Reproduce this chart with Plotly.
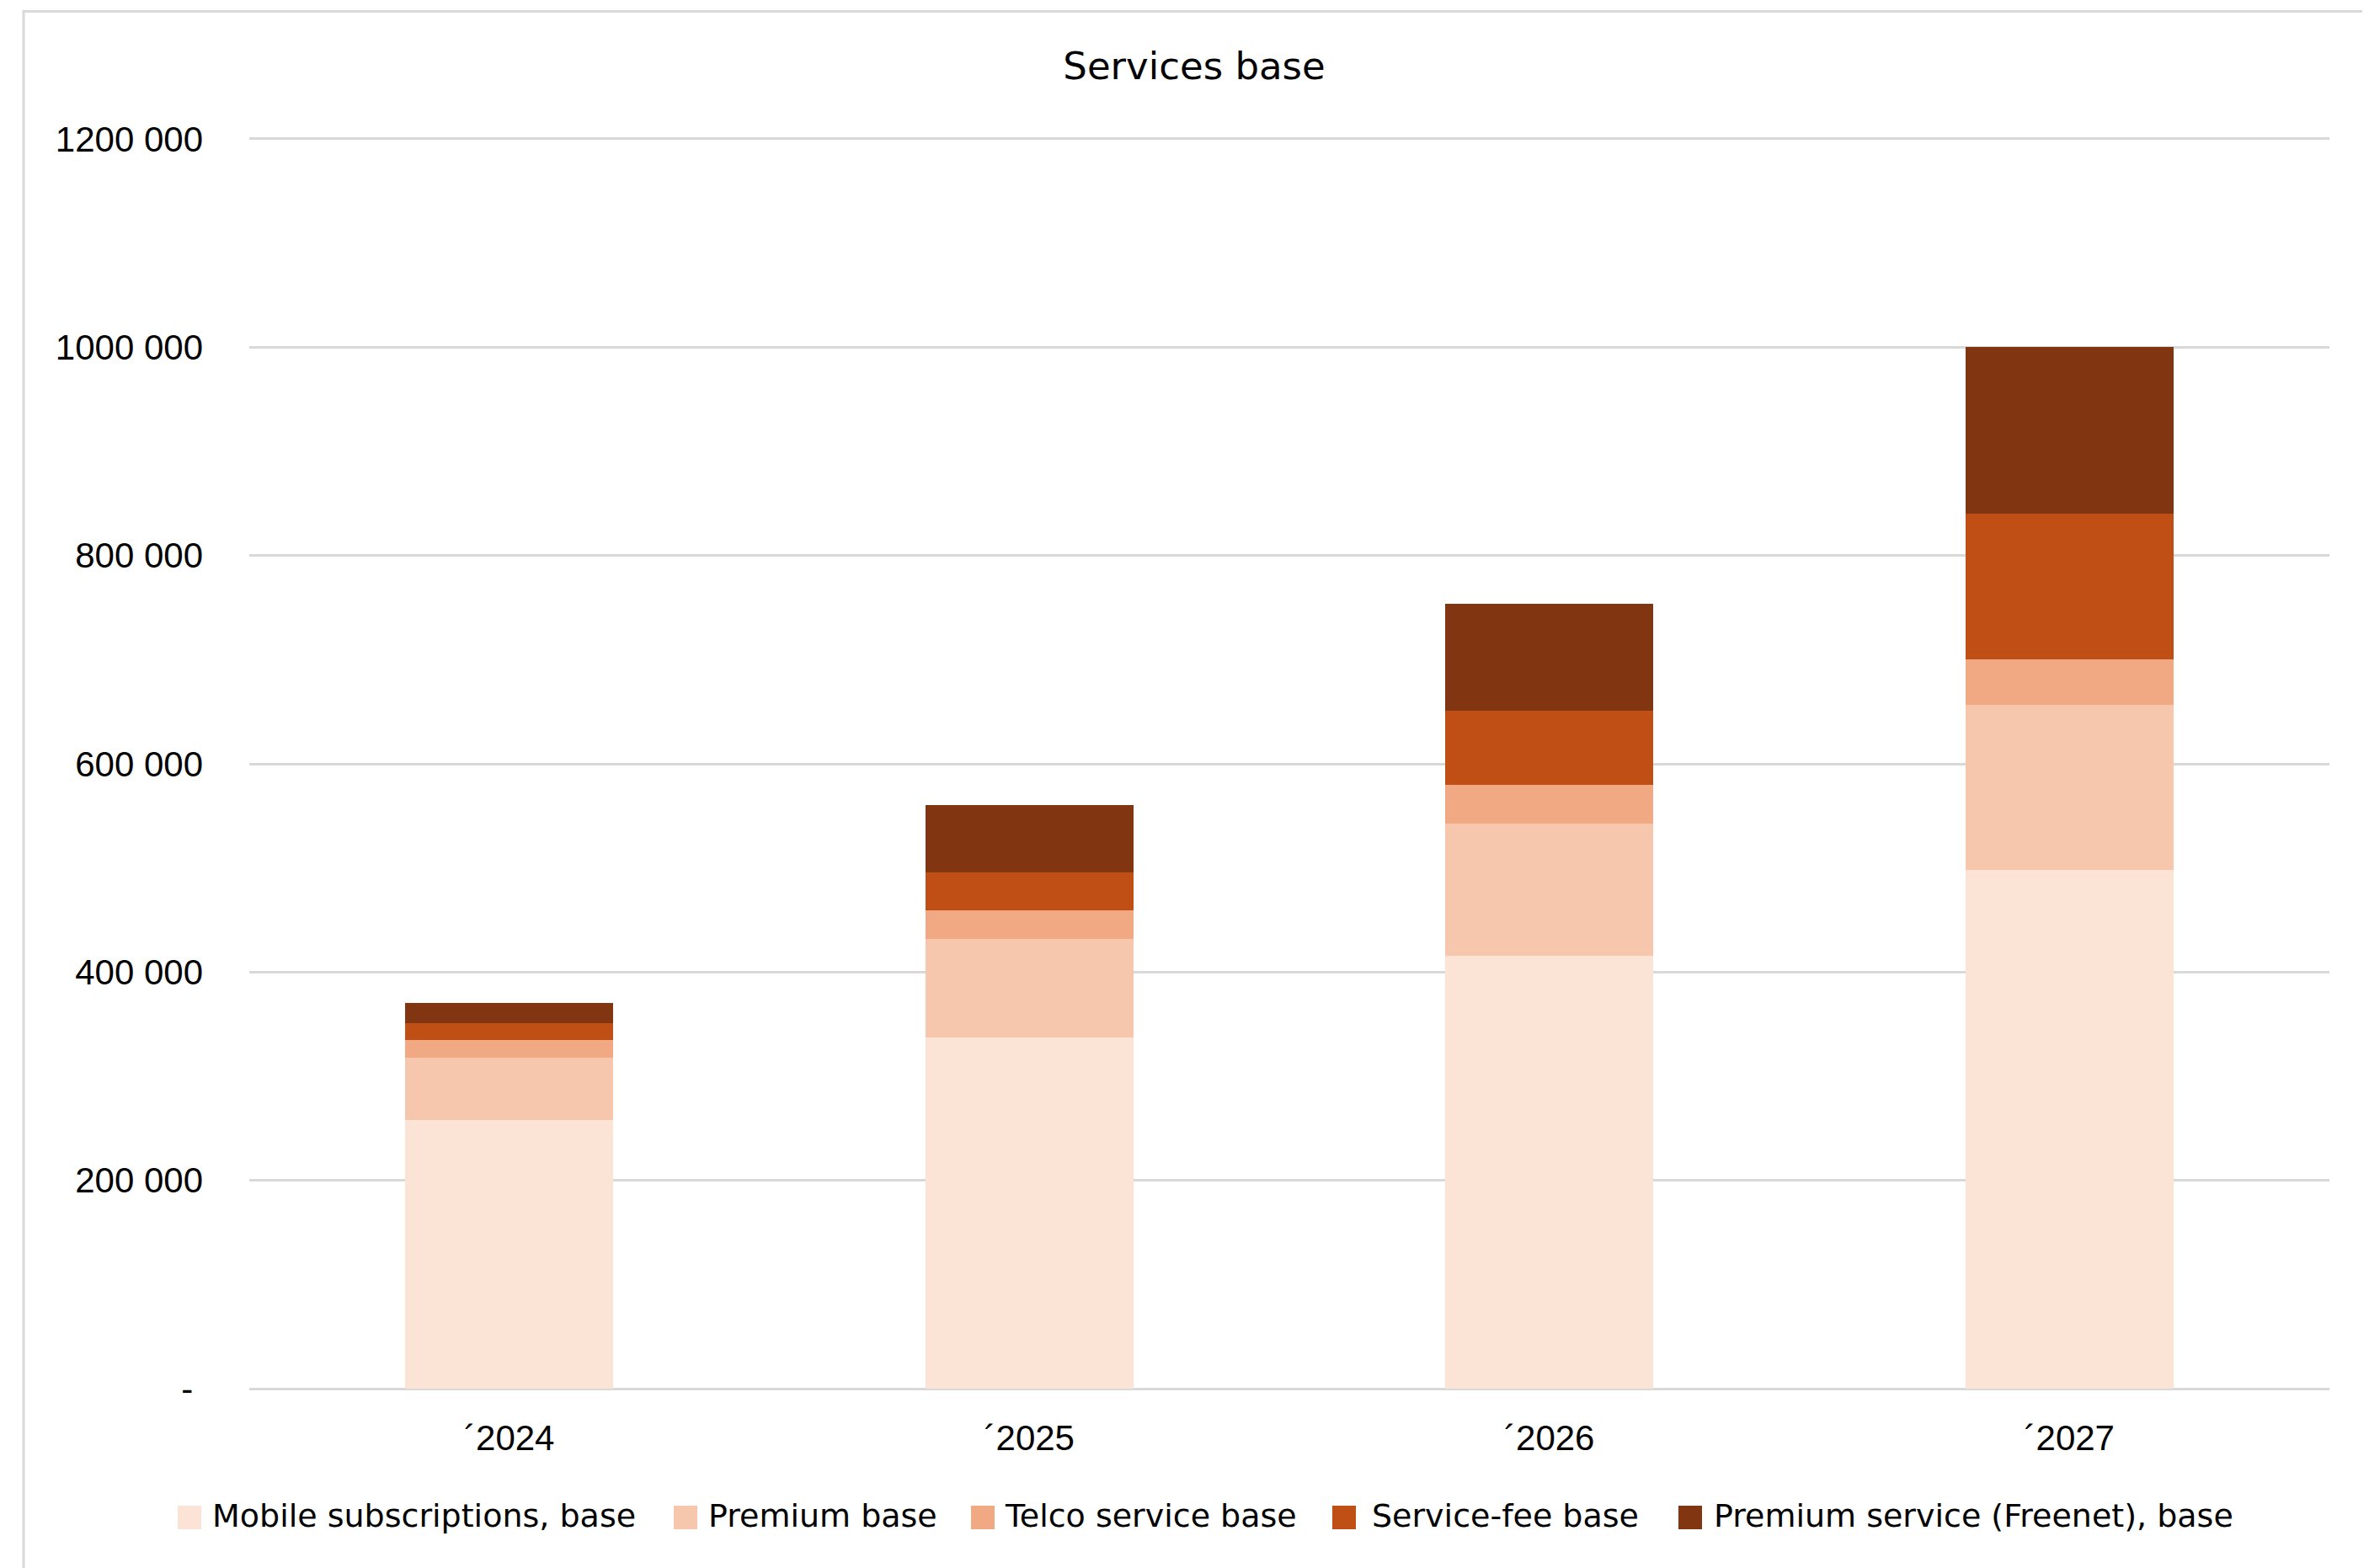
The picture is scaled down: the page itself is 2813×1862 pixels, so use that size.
import plotly.graph_objects as go

# ---- data ----
years = ["\u00b42024", "\u00b42025", "\u00b42026", "\u00b42027"]
mobile_subscriptions = [258000, 337000, 416000, 498000]
premium_base = [60000, 95000, 127000, 159000]
telco_service_base = [17000, 27000, 37000, 43000]
service_fee_base = [16000, 37000, 71000, 140000]
premium_service_freenet = [19000, 64000, 103000, 160000]

series_names = [
    "Mobile subscriptions, base",
    "Premium base",
    "Telco service base",
    "Service-fee base",
    "Premium service (Freenet), base",
]
series_values = [
    mobile_subscriptions,
    premium_base,
    telco_service_base,
    service_fee_base,
    premium_service_freenet,
]
colors = ["#FBE3D6", "#F6C6AD", "#F1A983", "#C04F15", "#813510"]

y_tickvals = [0, 200000, 400000, 600000, 800000, 1000000, 1200000]
y_ticktext = ["-\u00a0", "200 000", "400 000", "600 000", "800 000", "1000 000", "1200 000"]

# ---- layout geometry (page pixels; the page body has an 8px margin) ----
OFF = 8
PAGE_W, PAGE_H = 2813, 1862
W, H = PAGE_W - OFF, PAGE_H - OFF

Y_MIN, Y_MAX = -4000, 1204000
ZERO_PAGE = 1649
PX_PER_UNIT = 123.7 / 100000

PL_page, PR_page = 296, 2766
PB_page = ZERO_PAGE - Y_MIN * PX_PER_UNIT
PT_page = ZERO_PAGE - Y_MAX * PX_PER_UNIT

PL, PR = PL_page - OFF, PR_page - OFF
PT, PB = PT_page - OFF, PB_page - OFF


def px_x(x_page):
    return (x_page - OFF - PL) / (PR - PL)


def px_y(y_page):
    return (PB - (y_page - OFF)) / (PB - PT)


fig = go.Figure()
for name, vals, col in zip(series_names, series_values, colors):
    fig.add_trace(go.Bar(
        x=years, y=vals, name=name,
        marker=dict(color=col, line=dict(width=0)),
        showlegend=False,
    ))

axis_font = dict(family="Liberation Sans, Arial, sans-serif", size=42, color="#000000")

fig.update_layout(
    width=W, height=H,
    barmode="stack",
    bargap=0.6,
    paper_bgcolor="white",
    plot_bgcolor="white",
    margin=dict(l=PL, r=W - PR, t=PT, b=H - PB, autoexpand=False),
    title=dict(
        text="Services base",
        x=(1418 - OFF) / W, xref="container", xanchor="center",
        y=1 - (78 - OFF) / H, yref="container", yanchor="middle",
        font=dict(family="DejaVu Sans, sans-serif", size=45, color="#000000"),
    ),
    xaxis=dict(
        type="category",
        showgrid=False, showline=False, zeroline=False,
        ticks="", tickfont=axis_font, ticklabelstandoff=25,
    ),
    yaxis=dict(
        range=[Y_MIN, Y_MAX],
        tickvals=y_tickvals, ticktext=y_ticktext,
        showgrid=True, gridcolor="#D9D9D9", gridwidth=3,
        zeroline=True, zerolinecolor="#D9D9D9", zerolinewidth=3,
        showline=False,
        ticks="", tickfont=axis_font, ticklabelstandoff=54,
    ),
)

# chart border (Excel chart area frame)
fig.add_shape(
    type="rect", xref="paper", yref="paper",
    x0=px_x(28), x1=px_x(2807), y0=px_y(1880), y1=px_y(13),
    line=dict(color="#D9D9D9", width=3), fillcolor="rgba(0,0,0,0)",
    layer="below",
)

# custom legend (large square swatches like the reference)
legend_marker_x = [211, 800, 1153, 1582, 1993]
legend_text_x = [250, 839, 1191, 1627, 2033]
legend_y = 1802
sw = 28
legend_font = dict(family="DejaVu Sans, sans-serif", size=38, color="#000000")
for name, col, mx, tx in zip(series_names, colors, legend_marker_x, legend_text_x):
    fig.add_shape(
        type="rect", xref="paper", yref="paper",
        x0=px_x(mx), x1=px_x(mx + sw),
        y0=px_y(legend_y + sw / 2), y1=px_y(legend_y - sw / 2),
        line=dict(width=0), fillcolor=col,
    )
    fig.add_annotation(
        text=name, xref="paper", yref="paper",
        x=px_x(tx), y=px_y(legend_y - 2),
        xanchor="left", yanchor="middle", showarrow=False,
        font=legend_font,
    )

fig.write_html("out.html")
